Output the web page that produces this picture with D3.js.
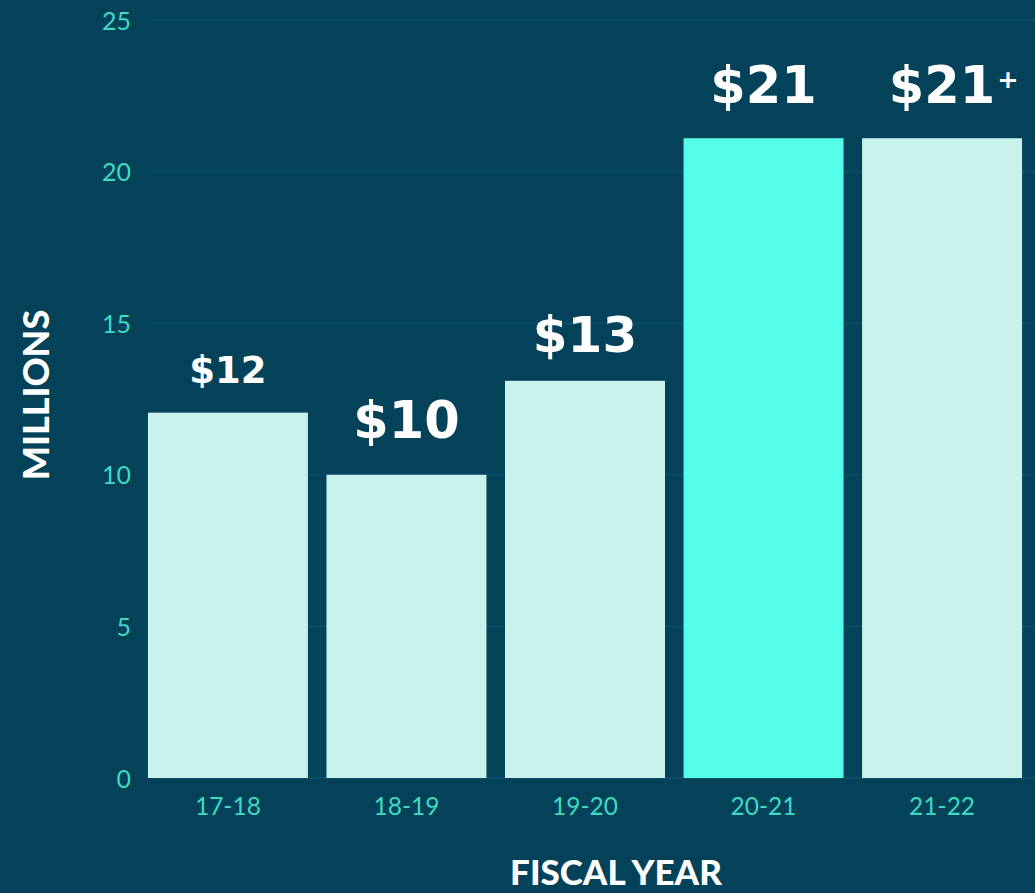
<!DOCTYPE html>
<html>
<head>
<meta charset="utf-8">
<script src="https://cdn.jsdelivr.net/npm/d3@7"></script>
<style>
  html, body { margin: 0; padding: 0; background: #04425a; overflow: hidden; }
  svg { display: block; }
</style>
</head>
<body>
<svg id="chart" width="1035" height="893"></svg>
<script>
const categories = ["17-18", "18-19", "19-20", "20-21", "21-22"];
const values = [12.05, 10.0, 13.1, 21.1, 21.1];
const valueLabels = ["$12", "$10", "$13", "$21", "$21"];
const labelSuffix = ["", "", "", "", "+"];
const highlighted = ["20-21"];
const yTicks = [0, 5, 10, 15, 20, 25];
const yTitle = "MILLIONS";
const xTitle = "FISCAL YEAR";

const W = 1035, H = 893;
const svg = d3.select("#chart");
svg.append("rect").attr("width", W).attr("height", H).attr("fill", "#04425a");

const x = d3.scaleBand().domain(categories).range([139, 1031]).paddingInner(0.104).paddingOuter(0.05);
const y = d3.scaleLinear().domain([0, 25]).range([778, 20]);

// gridlines
svg.append("g").selectAll("line").data(yTicks).join("line")
  .attr("x1", 152).attr("x2", W)
  .attr("y1", d => y(d)).attr("y2", d => y(d))
  .attr("stroke", "#0b4d67").attr("stroke-width", 2);

// y axis
const yAxis = svg.append("g").attr("transform", "translate(131,0)")
  .call(d3.axisLeft(y).tickValues(yTicks).tickSize(0).tickPadding(0));
yAxis.select(".domain").remove();
yAxis.selectAll("text").attr("fill", "#3fd8c4").attr("font-family", "Lato, sans-serif")
  .attr("font-size", 25).attr("dy", "0.36em");

// x axis
const xAxis = svg.append("g").attr("transform", `translate(0,${y(0)})`)
  .call(d3.axisBottom(x).tickSize(0).tickPadding(0));
xAxis.select(".domain").remove();
xAxis.selectAll("text").attr("fill", "#3fd8c4").attr("font-family", "Lato, sans-serif")
  .attr("font-size", 24.5).attr("y", 37).attr("dy", 0);

// bars
svg.append("g").selectAll("rect").data(categories).join("rect")
  .attr("x", d => x(d)).attr("width", x.bandwidth())
  .attr("y", (d, i) => y(values[i])).attr("height", (d, i) => y(0) - y(values[i]))
  .attr("fill", d => highlighted.includes(d) ? "#53fde8" : "#c9f2ed");

// value labels
const labelSize = [37, 51, 50, 51, 51];
const labelGap = [30, 37, 29, 35, 35];
const lblG = svg.append("g");
categories.forEach((c, i) => {
  const cx = x(c) + x.bandwidth() / 2;
  const by = y(values[i]) - labelGap[i];
  const t = lblG.append("text").text(valueLabels[i])
    .attr("x", cx).attr("y", by)
    .attr("text-anchor", "middle")
    .attr("font-family", "'DejaVu Sans', sans-serif").attr("font-weight", 700)
    .attr("font-size", labelSize[i]).attr("fill", "#ffffff");
  if (labelSuffix[i]) {
    const w = t.node().getComputedTextLength();
    lblG.append("text").text(labelSuffix[i])
      .attr("x", cx + w / 2 + 2).attr("y", by - labelSize[i] * 0.3)
      .attr("font-family", "'DejaVu Sans', sans-serif").attr("font-weight", 700)
      .attr("font-size", labelSize[i] * 0.5).attr("fill", "#ffffff");
  }
});

// axis titles
svg.append("text").text(yTitle)
  .attr("transform", "translate(49,395) rotate(-90)")
  .attr("text-anchor", "middle")
  .attr("font-family", "Lato, sans-serif").attr("font-weight", 900)
  .attr("font-size", 36).attr("fill", "#ffffff");

svg.append("text").text(xTitle)
  .attr("x", 616).attr("y", 885)
  .attr("text-anchor", "middle")
  .attr("font-family", "Lato, sans-serif").attr("font-weight", 900)
  .attr("font-size", 35).attr("fill", "#ffffff");
</script>
</body>
</html>
